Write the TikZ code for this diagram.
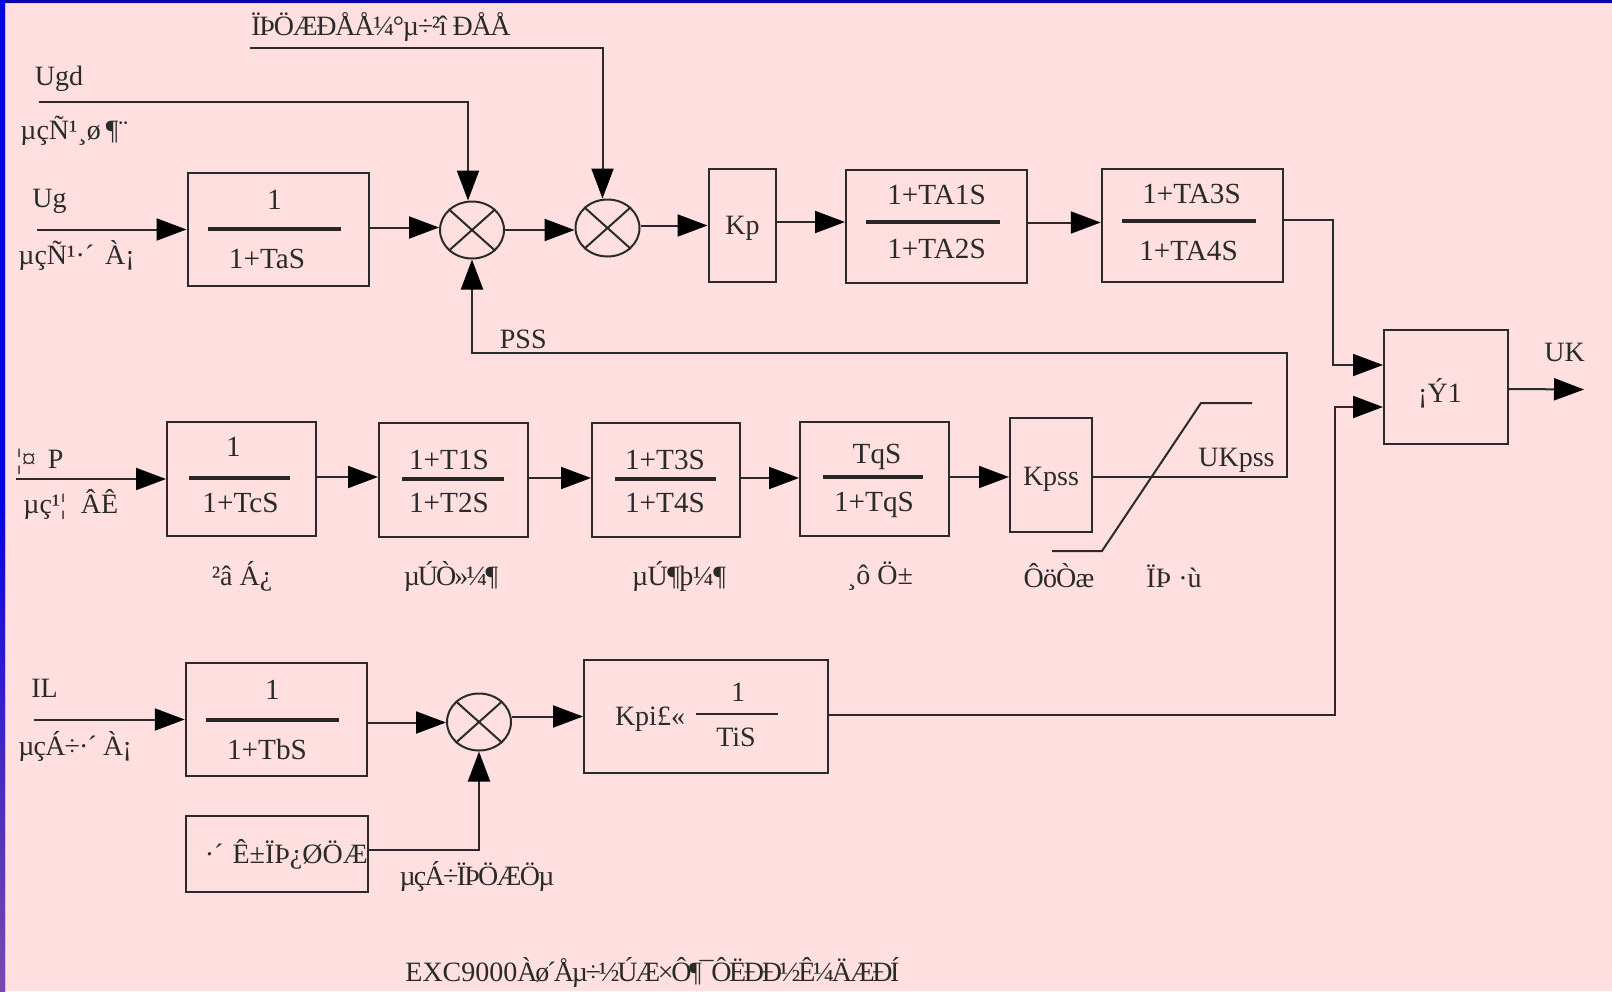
\documentclass[tikz,border=0pt]{standalone}
\usepackage{fontspec}
\setmainfont{Liberation Serif}
\usetikzlibrary{arrows.meta,shapes.geometric}
\definecolor{pagepink}{HTML}{FFDFDF}
\definecolor{edgeblue}{HTML}{0404DC}
\definecolor{edgenavy}{HTML}{0606A4}
\definecolor{edgepurple}{HTML}{7A48B0}
\definecolor{edgepale}{HTML}{E8C8F0}
\definecolor{linegray}{HTML}{2A2A2A}
\tikzset{
    lbl/.style={inner sep=0, text=linegray, font=\fontsize{14}{16}\selectfont},
    fraclbl/.style={lbl, font=\fontsize{14.6}{16}\selectfont},
    lblleft/.style={lbl, anchor=west},
    squeeze/.style={font=\fontsize{14}{16}\selectfont\addfontfeature{LetterSpace=#1}},
    blockbox/.style={draw=linegray, line width=1pt, inner sep=0},
    sumnode/.style={draw=linegray, line width=1pt, ellipse, inner sep=0, minimum width=32pt, minimum height=28.5pt},
    sig/.style={draw=linegray, line width=1pt, -{Triangle[length=15pt,width=11pt,color=black]}},
    wire/.style={draw=linegray, line width=1pt},
    fracbar/.style={draw=black!85, line width=1.6pt},
}
% name, centre, width, height, numerator place, numerator, denominator place, denominator, bar
\newcommand{\fracblock}[9]{
    \node[blockbox, minimum width=#3*0.5pt, minimum height=#4*0.5pt] (#1) at #2 {};
    \node[fraclbl] (#1num) at #5 {#6};
    \node[fraclbl] (#1den) at #7 {#8};
    \draw[fracbar] #9;
}
\newcommand{\sumcross}[1]{
    \draw[wire] (#1.north west) -- (#1.south east);
    \draw[wire] (#1.north east) -- (#1.south west);
}

\begin{document}
\begin{tikzpicture}[x=0.5pt, y=-0.5pt]
    \useasboundingbox (0,0) rectangle (1612,991);
    \fill[pagepink] (0,0) rectangle (1612,991);
    \fill[edgepale] (0,0) rectangle (1612,4);
    \fill[edgepale] (0,0) rectangle (6,991);
    \fill[edgenavy] (0,0) rectangle (1612,3);
    \shade[top color=edgeblue, bottom color=edgepurple, middle color=edgeblue] (0,0) rectangle (5,991);

    % upper row
    \fracblock{ta}{(278,229.5)}{181}{113}{(274.5,199.5)}{1}{(267,259)}{1+TaS}{(208,229) -- (341,229)}
    \fracblock{taone}{(936.5,226.5)}{181}{113}{(936.5,195)}{1+TA1S}{(936.5,249)}{1+TA2S}{(866,222) -- (1000,222)}
    \fracblock{tathree}{(1192.5,225.5)}{181.5}{113}{(1191.5,194)}{1+TA3S}{(1188.5,251)}{1+TA4S}{(1122,221) -- (1256,221)}
    \node[sumnode] (sumone) at (472,230) {};
    \node[sumnode] (sumtwo) at (607.5,228) {};
    \sumcross{sumone}
    \sumcross{sumtwo}
    \node[blockbox, minimum width=33.5pt, minimum height=56.5pt] (kp) at (742,225.5) {};
    \node[lbl] (kptext) at (742.5,228.5) {Kp};
    \node[blockbox, minimum width=62pt, minimum height=57pt] (orblock) at (1446,387) {};
    \node[lbl] (ortext) at (1440,393) {¡Ý1};

    % middle row
    \fracblock{tc}{(241.5,479)}{149}{114}{(233.5,447)}{1}{(240.5,503)}{1+TcS}{(189,478) -- (290,478)}
    \fracblock{tone}{(453.5,480)}{149}{114}{(449,460)}{1+T1S}{(449,503)}{1+T2S}{(402,479) -- (504,479)}
    \fracblock{tthree}{(666,480)}{148}{114}{(665,460)}{1+T3S}{(665,503)}{1+T4S}{(615,479) -- (716,479)}
    \fracblock{tq}{(874.5,479)}{149}{114}{(877,457)}{TqS}{(874,505)}{1+TqS}{(823,477) -- (923,477)}
    \node[blockbox, minimum width=41pt, minimum height=57pt] (kpss) at (1051,475) {};
    \node[lbl] (kpsstext) at (1051,479) {Kpss};

    % lower row
    \fracblock{tb}{(276.5,719.5)}{181.5}{113}{(272.5,690)}{1}{(267,750)}{1+TbS}{(206,720) -- (339,720)}
    \node[sumnode] (sumthree) at (479,722) {};
    \sumcross{sumthree}
    \node[blockbox, minimum width=122pt, minimum height=56.5pt] (kpi) at (706,716.5) {};
    \node[lbl] (kpitext) at (650,719) {Kpi£«};
    \node[lbl] (kpinum) at (738,692) {1};
    \node[lbl] (kpiden) at (736,737) {TiS};
    \draw[wire] (696,713.5) -- (778,713.5);
    \node[blockbox, minimum width=91pt, minimum height=38pt] (limit) at (276.5,854) {};
    \node[lblleft] (limittext) at (204.5,854) {·´\kern4.5pt Ê±ÏÞ¿ØÖÆ};

    % free ends
    \coordinate (limitin) at (250,48);
    \coordinate (ugdin) at (39,102);
    \coordinate (ugin) at (37,229.5);
    \coordinate (pin) at (16,479);
    \coordinate (ilin) at (34,719.5);
    \coordinate (ukout) at (1584,389.5);

    % connectors
    \draw[sig] (limitin) -| ([xshift=-2.5pt]sumtwo.north);
    \draw[sig] (ugdin) -| ([xshift=-2pt]sumone.north);
    \draw[sig] (ugin) -- (ta.west);
    \draw[sig] ([yshift=1pt]ta.east) -- ([yshift=1pt]ta.east -| sumone.west);
    \draw[sig] (sumone.east) -- (sumone.east -| sumtwo.west);
    \draw[sig] (sumtwo.east |- kp.west) -- (kp.west);
    \draw[sig] ([yshift=1.75pt]kp.east) -- ([yshift=1.75pt]kp.east -| taone.west);
    \draw[sig] ([yshift=2pt]taone.east) -- ([yshift=2pt]taone.east -| tathree.west);
    \draw[sig] ([yshift=2.75pt]tathree.east) -| (1333,365) -- ([yshift=11pt]orblock.west);
    \draw[sig] ([yshift=1pt]kpi.east) -| (1335,407) -- ([yshift=-10pt]orblock.west);
    \draw[sig] ([yshift=-1pt]orblock.east) -- (ukout);

    \draw[sig] (pin) -- (tc.west);
    \draw[sig] ([yshift=1pt]tc.east) -- ([yshift=1pt]tc.east -| tone.west);
    \draw[sig] ([yshift=1pt]tone.east) -- ([yshift=1pt]tone.east -| tthree.west);
    \draw[sig] ([yshift=1pt]tthree.east) -- ([yshift=1pt]tthree.east -| tq.west);
    \draw[sig] ([yshift=1pt]tq.east) -- ([yshift=1pt]tq.east -| kpss.west);
    \draw[sig] ([yshift=-1pt]kpss.east) -- ++(194,0) -- ++(0,-124) -| (sumone.south);

    \draw[sig] (ilin) -- (tb.west);
    \draw[sig] ([yshift=-1.5pt]tb.east) -- ([yshift=-1.5pt]tb.east -| sumthree.west);
    \draw[sig] (sumthree.east |- kpi.west) -- (kpi.west);
    \draw[sig] ([yshift=2pt]limit.east) -| (sumthree.south);

    % limiter curve
    \draw[wire] (1052,551) -- (1102,551) -- (1201,403) -- (1252,403);

    % labels
    \node[lblleft, squeeze=-4.5] (limitlbl) at (251,27) {ÏÞÖÆÐÅÅ¼°µ÷²î ÐÅÅ};
    \node[lblleft] (ugdlbl) at (34.5,79) {Ugd};
    \node[lblleft] (ugdcn) at (20,131) {µçÑ¹¸ø\kern2.5pt¶¨};
    \node[lblleft] (uglbl) at (32,201) {Ug};
    \node[lblleft] (ugcn) at (18,255) {µçÑ¹·´\kern2pt{} À¡};
    \node[lblleft] (psslbl) at (499.5,339) {PSS};
    \node[lblleft] (uklbl) at (1544,352) {UK};
    \node[lblleft] (plbl) at (16,462) {¦¤\kern2.5pt{} P};
    \node[lblleft] (pcn) at (23,504) {µç¹¦\kern4pt{} ÂÊ};
    \node[lblleft] (ukpsslbl) at (1198,460) {UKpss};
    \node[lbl] (celiang) at (242,576) {²â Á¿};
    \node[lbl, squeeze=-7] (stageone) at (451,576) {µÚÒ»¼¶};
    \node[lbl, squeeze=-2] (stagetwo) at (679,576) {µÚ¶þ¼¶};
    \node[lbl] (blockdc) at (880,576) {¸ô Ö±};
    \node[lbl, squeeze=-3] (gain) at (1059,576) {ÔöÒæ};
    \node[lbl] (clip) at (1174,576) {ÏÞ ·ù};
    \node[lblleft] (illbl) at (31,688) {IL};
    \node[lblleft, squeeze=-3] (ilcn) at (18,746) {µçÁ÷·´ À¡};
    \node[lbl, squeeze=-6.2] (limitval) at (477,876) {µçÁ÷ÏÞÖÆÖµ};
    \node[lblleft] (caption) at (405,972) {EXC9000{\addfontfeature{LetterSpace=-8.3}Àø´Åµ÷½ÚÆ×Ô¶¯ÔËÐÐ½Ê¼ÄÆÐÍ}};
\end{tikzpicture}
\end{document}
